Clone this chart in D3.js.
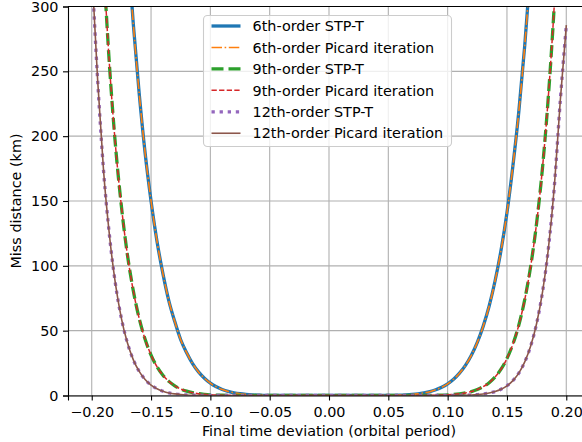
<!DOCTYPE html>
<html>
<head>
<meta charset="utf-8">
<script src="https://cdn.jsdelivr.net/npm/d3@7"></script>
<style>
  html, body { margin: 0; padding: 0; background: #fff; }
  svg { display: block; font-family: "DejaVu Sans", sans-serif; }
</style>
</head>
<body>
<svg id="chart" width="582" height="442"></svg>
<script>
// ---- data ----
const dt = [
  -0.200, -0.195, -0.190, -0.185, -0.180, -0.175, -0.170, -0.165, -0.160, -0.155,
  -0.150, -0.145, -0.140, -0.135, -0.130, -0.125, -0.120, -0.115, -0.110, -0.105,
  -0.100, -0.095, -0.090, -0.085, -0.080, -0.075, -0.070, -0.065, -0.060, -0.055,
  -0.050, -0.045, -0.040, -0.035, -0.030, -0.025, -0.020, -0.015, -0.010, -0.005,
   0.000,
   0.005,  0.010,  0.015,  0.020,  0.025,  0.030,  0.035,  0.040,  0.045,  0.050,
   0.055,  0.060,  0.065,  0.070,  0.075,  0.080,  0.085,  0.090,  0.095,  0.100,
   0.105,  0.110,  0.115,  0.120,  0.125,  0.130,  0.135,  0.140,  0.145,  0.150,
   0.155,  0.160,  0.165,  0.170,  0.175,  0.180,  0.185,  0.190,  0.195,  0.200
];

const order6 = [
  null, null, null, null, null, null, 351, 287, 233, 187,
  150, 119, 94, 73, 57, 43, 33, 24.6, 18.2, 13.3,
  9.5, 6.7, 4.65, 3.15, 2.1, 1.35, 0.85, 0.5, 0.3, 0.17,
  0.09, 0.05, 0.02, 0, 0, 0, 0, 0, 0, 0,
  0,
  0, 0, 0, 0, 0, 0, 0, 0.02, 0.05, 0.09,
  0.16, 0.28, 0.48, 0.8, 1.27, 2.0, 2.96, 4.4, 6.3, 9.0,
  12.5, 17.2, 23.2, 31, 41, 53.5, 69, 88.5, 112, 141,
  177, 219, 270, 331, null, null, null, null, null, null
];

const order9 = [
  null, null, 332, 254, 193, 146, 109, 81, 59.5, 43.3,
  31.2, 22.2, 15.6, 10.9, 7.5, 5.0, 3.35, 2.2, 1.4, 0.9,
  0.54, 0.32, 0.19, 0.1, 0.06, 0.03, 0.01, 0, 0, 0,
  0, 0, 0, 0, 0, 0, 0, 0, 0, 0,
  0,
  0, 0, 0, 0, 0, 0, 0, 0, 0, 0,
  0, 0, 0, 0.01, 0.03, 0.05, 0.1, 0.17, 0.3, 0.5,
  0.8, 1.28, 2.0, 3.05, 4.6, 6.8, 9.9, 14.3, 20.3, 28.5,
  39.6, 54.3, 74, 99.6, 133, 176, 232, 303, 393, null
];

const order12 = [
  330, 243, 173, 123, 86, 59.5, 40.8, 27.7, 18.6, 12.3,
  8.0, 5.2, 3.3, 2.0, 1.25, 0.75, 0.44, 0.25, 0.14, 0.08,
  0.04, 0.02, 0.01, 0, 0, 0, 0, 0, 0, 0,
  0, 0, 0, 0, 0, 0, 0, 0, 0, 0,
  0,
  0, 0, 0, 0, 0, 0, 0, 0, 0, 0,
  0, 0, 0, 0, 0, 0, 0, 0.01, 0.02, 0.04,
  0.07, 0.13, 0.23, 0.4, 0.7, 1.15, 1.9, 3.05, 4.8, 7.5,
  11.5, 17.3, 25.9, 38.1, 55.5, 80, 114, 162, 228, 285
];

const seriesNames = [
  "6th-order STP-T", "6th-order Picard iteration",
  "9th-order STP-T", "9th-order Picard iteration",
  "12th-order STP-T", "12th-order Picard iteration"
];
const seriesValues = [order6, order6, order9, order9, order12, order12];

const xTicks = [-0.20, -0.15, -0.10, -0.05, 0.00, 0.05, 0.10, 0.15, 0.20];
const yTicks = [0, 50, 100, 150, 200, 250, 300];

// ---- styles ----
const styles = [
  { color: "#1f77b4", width: 3.3, dash: null },
  { color: "#ff7f0e", width: 1.6, dash: "10.5,2.6,1.6,2.6" },
  { color: "#2ca02c", width: 3.3, dash: "12,5" },
  { color: "#d62728", width: 1.5, dash: "5.3,2.3" },
  { color: "#9467bd", width: 3.3, dash: "3.3,4.8" },
  { color: "#8c564b", width: 1.6, dash: null }
];

const FS = 14.4;

// ---- layout ----
const margin = { left: 68, top: 6.5 };
const plotW = 522, plotH = 389;
const svg = d3.select("#chart");

const x = d3.scaleLinear().domain([-0.22, 0.22]).range([margin.left, margin.left + plotW]);
const y = d3.scaleLinear().domain([0, 300]).range([margin.top + plotH, margin.top]);

const fmtX = d => d3.format(".2f")(d).replace("-", "\u2212");

// grid
const grid = svg.append("g");
grid.selectAll("line.gx").data(xTicks).join("line")
  .attr("x1", d => x(d)).attr("x2", d => x(d))
  .attr("y1", y(0)).attr("y2", y(300))
  .attr("stroke", "#b0b0b0").attr("stroke-width", 1.1);
grid.selectAll("line.gy").data(yTicks).join("line")
  .attr("x1", x.range()[0]).attr("x2", x.range()[1])
  .attr("y1", d => y(d)).attr("y2", d => y(d))
  .attr("stroke", "#b0b0b0").attr("stroke-width", 1.1);

// clip
svg.append("clipPath").attr("id", "clip").append("rect")
  .attr("x", x.range()[0]).attr("y", y(300))
  .attr("width", plotW).attr("height", plotH);

const line = d3.line()
  .defined(d => d[1] !== null)
  .x(d => x(d[0])).y(d => y(d[1]))
  .curve(d3.curveMonotoneX);

const lines = svg.append("g").attr("clip-path", "url(#clip)");
seriesValues.forEach((vals, k) => {
  const pts = dt.map((t, i) => [t, vals[i]]);
  const st = styles[k];
  lines.append("path")
    .attr("d", line(pts))
    .attr("fill", "none")
    .attr("stroke", st.color)
    .attr("stroke-width", st.width)
    .attr("stroke-dasharray", st.dash)
    .attr("stroke-linejoin", "round")
    .attr("stroke-linecap", st.dash ? "butt" : "square");
});

// axes
const xAxis = d3.axisBottom(x).tickValues(xTicks).tickFormat(fmtX).tickSizeOuter(0).tickSize(5).tickPadding(5.8);
const yAxis = d3.axisLeft(y).tickValues(yTicks).tickSizeOuter(0).tickSize(5).tickPadding(4.5);

const gx = svg.append("g").attr("transform", `translate(0,${y(0)})`).call(xAxis);
const gy = svg.append("g").attr("transform", `translate(${x.range()[0]},0)`).call(yAxis);
[gx, gy].forEach(g => {
  g.selectAll("text").attr("font-size", FS).attr("fill", "#000").attr("font-family", "DejaVu Sans");
  g.selectAll("line").attr("stroke", "#000").attr("stroke-width", 1.1);
  g.select(".domain").attr("stroke", "#000").attr("stroke-width", 1.1);
});

// top spine
svg.append("line")
  .attr("x1", x.range()[0]).attr("x2", x.range()[1])
  .attr("y1", y(300)).attr("y2", y(300))
  .attr("stroke", "#000").attr("stroke-width", 1.1);

// axis labels
svg.append("text")
  .attr("x", x(0)).attr("y", 435.5)
  .attr("text-anchor", "middle")
  .attr("font-size", FS)
  .text("Final time deviation (orbital period)");

svg.append("text")
  .attr("transform", `translate(20.5,${(y(0) + y(300)) / 2}) rotate(-90)`)
  .attr("text-anchor", "middle")
  .attr("font-size", FS)
  .text("Miss distance (km)");

// legend
const lg = svg.append("g");
lg.append("rect")
  .attr("x", 203.5).attr("y", 15.5)
  .attr("width", 248).attr("height", 131)
  .attr("rx", 4).attr("ry", 4)
  .attr("fill", "#fff").attr("fill-opacity", 0.8)
  .attr("stroke", "#cccccc").attr("stroke-width", 1.1);

const rowY0 = 26, rowStep = 21.45;
seriesNames.forEach((name, k) => {
  const st = styles[k];
  const cy = rowY0 + k * rowStep;
  lg.append("line")
    .attr("x1", 211.5).attr("x2", 240.5)
    .attr("y1", cy).attr("y2", cy)
    .attr("stroke", st.color)
    .attr("stroke-width", st.width)
    .attr("stroke-dasharray", st.dash);
  lg.append("text")
    .attr("x", 252.5).attr("y", cy)
    .attr("dy", "0.36em")
    .attr("font-size", FS)
    .text(name);
});
</script>
</body>
</html>
